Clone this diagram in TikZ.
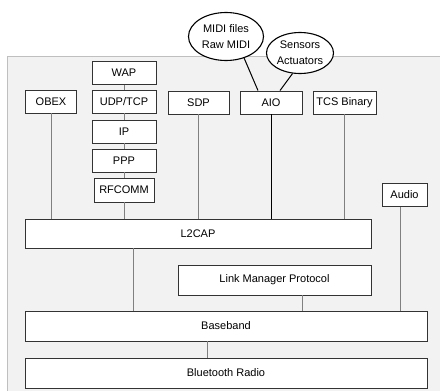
\documentclass[tikz,border=0pt]{standalone}
\usepackage{fontspec}
\setmainfont{Liberation Sans}
\usetikzlibrary{shapes.geometric}

\begin{document}
\begin{tikzpicture}[x=1pt, y=-1pt,
    every node/.style={font=\fontsize{11}{13}\selectfont},
    layer/.style={draw=black!80, line width=0.9pt, fill=white, inner sep=0pt, minimum height=23pt},
    bubble/.style={ellipse, draw=black, line width=1.1pt, fill=white, inner sep=0pt, align=center,
      font=\fontsize{11}{16}\selectfont},
    link/.style={draw=black!50, line width=0.8pt},
    hardlink/.style={draw=black, line width=1pt}]
  \useasboundingbox (0,0) rectangle (440,391);
  \fill[black!5] (7,56) rectangle (445,396);
  \draw[black!25, line width=0.8pt] (7,396) -- (7,56) -- (445,56);

  \node[layer, minimum width=64pt] (wap) at (124,73) {WAP};
  \node[layer, minimum width=64pt] (udptcp) at (124,101.5) {UDP/TCP};
  \node[layer, minimum width=64pt] (ip) at (124,131.5) {IP};
  \node[layer, minimum width=64pt] (ppp) at (124,160.5) {PPP};
  \node[layer, minimum width=60pt, minimum height=24pt] (rfcomm) at (124,190) {RFCOMM};
  \node[layer, minimum width=51pt] (obex) at (51,101.5) {OBEX};
  \node[layer, minimum width=61pt] (sdp) at (198.5,102.5) {SDP};
  \node[layer, minimum width=62pt] (aio) at (271,102.5) {AIO};
  \node[layer, minimum width=63pt] (tcs) at (344.5,102.5) {TCS Binary};
  \node[layer, minimum width=45pt] (audio) at (404.5,195) {Audio};
  \node[layer, minimum width=346pt, minimum height=29pt] (l2cap) at (198,233.5) {L2CAP};
  \node[layer, minimum width=193pt, minimum height=30pt] (lmp) at (274.5,280) {Link Manager Protocol};
  \node[layer, minimum width=402pt, minimum height=30pt] (baseband) at (226,326) {Baseband};
  \node[layer, minimum width=402pt, minimum height=30pt] (radio) at (226,373) {Bluetooth Radio};
  \node[bubble, minimum width=75pt, minimum height=48pt] (midi) at (226,36.5) {MIDI files\\Raw MIDI};
  \node[bubble, minimum width=67pt, minimum height=41pt] (sensors) at (300,53) {Sensors\\Actuators};

  \foreach \a/\b in {wap/udptcp, udptcp/ip, ip/ppp, ppp/rfcomm}
    \draw[link] (\a) -- (\b);
  \foreach \a in {obex, rfcomm, sdp, tcs}
    \draw[link] (\a) -- (\a |- l2cap.north);
  \draw[hardlink] (aio) -- (aio |- l2cap.north);
  \draw[link] ([xshift=-4pt]audio.south) -- ([xshift=-4pt]audio.south |- baseband.north);
  \draw[link] ([xshift=-65pt]l2cap.south) -- ([xshift=-65pt]l2cap.south |- baseband.north);
  \draw[link] ([xshift=28pt]lmp.south) -- ([xshift=28pt]lmp.south |- baseband.north);
  \draw[link] ([xshift=-19pt]baseband.south) -- ([xshift=-19pt]baseband.south |- radio.north);
  \draw[hardlink] (midi.-50) -- ([xshift=-13pt]aio.north);
  \draw[hardlink] (sensors.-110) -- ([xshift=9pt]aio.north);
\end{tikzpicture}
\end{document}
